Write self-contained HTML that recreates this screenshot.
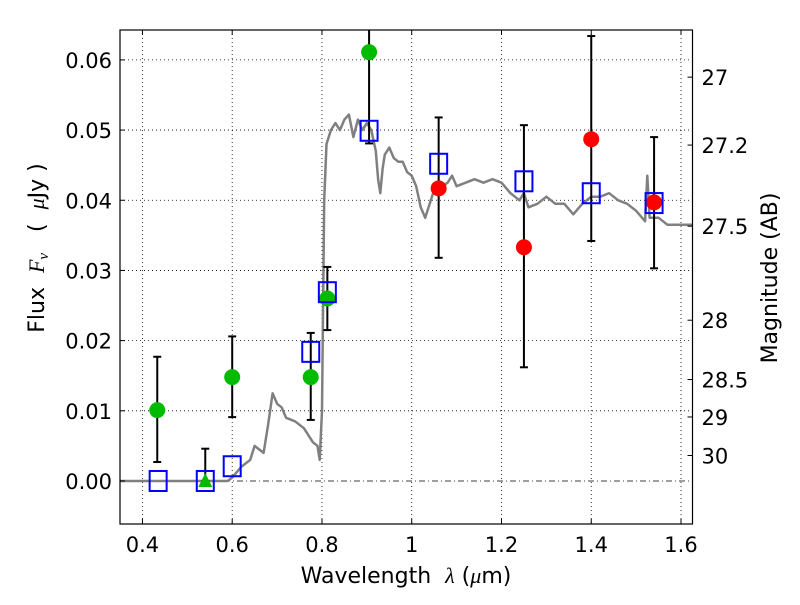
<!DOCTYPE html>
<html><head><meta charset="utf-8"><style>
body{margin:0;background:#fff;}
svg text{font-family:"DejaVu Sans","Liberation Sans",sans-serif;fill:#000;white-space:pre;}
</style></head><body>
<svg id="chart" width="800" height="600" xmlns="http://www.w3.org/2000/svg"></svg>
<script>
const xTicks=[0.4,0.6,0.8,1.0,1.2,1.4,1.6];
const xTickLabels=["0.4","0.6","0.8","1","1.2","1.4","1.6"];
const yTicks=[0,0.01,0.02,0.03,0.04,0.05,0.06];
const yTickLabels=["0.00","0.01","0.02","0.03","0.04","0.05","0.06"];
const magTicks=[27,27.2,27.5,28,28.5,29,30];
const magTickLabels=["27","27.2","27.5","28","28.5","29","30"];
const specLam=[0.35,0.59,0.6,0.62,0.64,0.65,0.66,0.67,0.68,0.69,0.70,0.71,0.72,0.74,0.76,0.78,0.79,0.795,0.80,0.805,0.81,0.82,0.83,0.84,0.85,0.86,0.87,0.88,0.89,0.90,0.91,0.92,0.925,0.93,0.935,0.94,0.95,0.96,0.97,0.98,0.99,1.0,1.01,1.02,1.03,1.04,1.05,1.07,1.08,1.09,1.10,1.12,1.14,1.16,1.18,1.20,1.22,1.24,1.25,1.26,1.28,1.30,1.32,1.34,1.36,1.38,1.40,1.42,1.44,1.46,1.48,1.50,1.52,1.525,1.53,1.55,1.57,1.60,1.625];
const specFlux=[0,0,0.0005,0.002,0.003,0.005,0.0045,0.004,0.008,0.0125,0.011,0.0105,0.009,0.0085,0.0075,0.0055,0.005,0.003,0.01,0.04,0.048,0.050,0.051,0.050,0.0515,0.0522,0.049,0.0515,0.050,0.051,0.050,0.047,0.043,0.041,0.0445,0.0465,0.0475,0.046,0.0455,0.0455,0.044,0.0435,0.042,0.039,0.0375,0.0395,0.0415,0.042,0.0425,0.0435,0.042,0.0425,0.043,0.0425,0.043,0.0425,0.041,0.040,0.041,0.039,0.0395,0.0405,0.0395,0.0395,0.038,0.0395,0.0405,0.0405,0.041,0.040,0.0395,0.0385,0.037,0.0435,0.0375,0.0375,0.0365,0.0365,0.0365];
const greenLam=[0.433,0.60,0.775,0.812,0.905];
const greenFlux=[0.0101,0.0148,0.0148,0.026,0.0611];
const greenErrLo=[0.0027,0.0091,0.0087,0.0215,0.0481];
const greenErrHi=[0.0177,0.0206,0.0211,0.0305,0.070];
const triLam=[0.54];
const triFlux=[0];
const triErrHi=[0.0046];
const redLam=[1.06,1.25,1.40,1.54];
const redFlux=[0.0417,0.0333,0.0487,0.0397];
const redErrLo=[0.0318,0.0162,0.0342,0.0303];
const redErrHi=[0.0518,0.0507,0.0634,0.049];
const blueLam=[0.435,0.54,0.60,0.775,0.812,0.905,1.06,1.25,1.40,1.54];
const blueFlux=[0,0,0.0021,0.0184,0.0269,0.0499,0.0452,0.0427,0.041,0.0396];

const L=120,R=692.5,T=30,B=524;
const x0=0.35,x1=1.6256,y0=-0.00613,y1=0.06426;
const sx=v=>L+(v-x0)/(x1-x0)*(R-L);
const sy=v=>B-(v-y0)/(y1-y0)*(B-T);
const magToFlux=m=>Math.pow(10,-(m-23.9)/2.5);
const svg=document.getElementById('chart');
const NS="http://www.w3.org/2000/svg";
function mk(tag,attrs,parent){const e=document.createElementNS(NS,tag);for(const k in attrs)e.setAttribute(k,attrs[k]);(parent||svg).appendChild(e);return e;}

const clip=mk('clipPath',{id:'pc'});mk('rect',{x:L,y:T,width:R-L,height:B-T},clip);
const grid=mk('g',{});


xTicks.forEach(v=>{mk('line',{x1:sx(v),x2:sx(v),y1:T,y2:B,stroke:'#000','stroke-width':0.8,'stroke-dasharray':'1,3'},grid);});
yTicks.forEach(v=>{if(v!==0)mk('line',{x1:L,x2:R,y1:sy(v),y2:sy(v),stroke:'#000','stroke-width':0.8,'stroke-dasharray':'1,3'},grid);});
const zl=mk('line',{x1:L,x2:R,y1:sy(0),y2:sy(0),stroke:'#000','stroke-width':0.8,'stroke-dasharray':'6,3,1,3'});



const plot=mk('g',{'clip-path':'url(#pc)'});
let d=specLam.map((l,i)=>(i?'L':'M')+sx(l).toFixed(1)+','+sy(specFlux[i]).toFixed(1)).join('');
const sp=mk('path',{d:d,fill:'none',stroke:'#808080','stroke-width':2.5,'stroke-linejoin':'round'},plot);



function errbar(l,lo,hi){const g=mk('g',{},plot);
mk('line',{x1:sx(l),x2:sx(l),y1:sy(lo),y2:sy(hi),stroke:'#000','stroke-width':2},g);
[lo,hi].forEach(v=>mk('line',{x1:sx(l)-4,x2:sx(l)+4,y1:sy(v),y2:sy(v),stroke:'#000','stroke-width':2},g));}
greenLam.forEach((l,i)=>errbar(l,greenErrLo[i],greenErrHi[i]));
triLam.forEach((l,i)=>errbar(l,triFlux[i],triErrHi[i]));
redLam.forEach((l,i)=>errbar(l,redErrLo[i],redErrHi[i]));
greenLam.forEach((l,i)=>{const c=mk('circle',{cx:sx(l),cy:sy(greenFlux[i]),r:8,fill:'#00bb00'},plot);

});
triLam.forEach((l,i)=>{const X=sx(l),Y=sy(triFlux[i]);const p=mk('polygon',{points:`${X},${Y-8} ${X-7},${Y+6} ${X+7},${Y+6}`,fill:'#00bb00'},plot);

});
redLam.forEach((l,i)=>{const c=mk('circle',{cx:sx(l),cy:sy(redFlux[i]),r:8,fill:'#ff0000'},plot);

});
blueLam.forEach((l,i)=>{const r=mk('rect',{x:sx(l)-8.5,y:sy(blueFlux[i])-10,width:17,height:20,fill:'none',stroke:'#0000ff','stroke-width':2},plot);

});

const frame=mk('rect',{x:L,y:T,width:R-L,height:B-T,fill:'none',stroke:'#000','stroke-width':1.2});



xTicks.forEach((v,i)=>{mk('line',{x1:sx(v),x2:sx(v),y1:B,y2:B-5,stroke:'#000'});mk('line',{x1:sx(v),x2:sx(v),y1:T,y2:T+5,stroke:'#000'});
const t=mk('text',{x:sx(v),y:B+28,'font-size':21,'text-anchor':'middle'});t.textContent=xTickLabels[i];

});
yTicks.forEach((v,i)=>{mk('line',{x1:L,x2:L+5,y1:sy(v),y2:sy(v),stroke:'#000'});
const t=mk('text',{x:L-8,y:sy(v)+8,'font-size':21,'text-anchor':'end'});t.textContent=yTickLabels[i];

});
magTicks.forEach((m,i)=>{const y=sy(magToFlux(m));mk('line',{x1:R,x2:R-5,y1:y,y2:y,stroke:'#000'});
const t=mk('text',{x:R+9,y:y+8,'font-size':21});t.textContent=magTickLabels[i];

});

const xt=mk('text',{x:406,y:583,'font-size':22,'text-anchor':'middle'});
xt.innerHTML='Wavelength  <tspan font-style="italic" font-family="Liberation Serif">λ</tspan> (<tspan font-style="italic" font-family="Liberation Serif">μ</tspan>m)';


const yt=mk('text',{x:0,y:0,'font-size':22,'text-anchor':'middle',transform:'translate(44,248) rotate(-90)'});
yt.innerHTML='Flux  <tspan font-style="italic" font-family="Liberation Serif">F</tspan><tspan font-style="italic" font-family="Liberation Serif" font-size="15" dy="4">ν</tspan><tspan dy="-4">   (  </tspan><tspan font-style="italic" font-family="Liberation Serif">μ</tspan>Jy )';


const rt=mk('text',{x:0,y:0,'font-size':22,'text-anchor':'middle',transform:'translate(777,278) rotate(-90)'});
rt.textContent='Magnitude (AB)';


</script>
</body></html>
